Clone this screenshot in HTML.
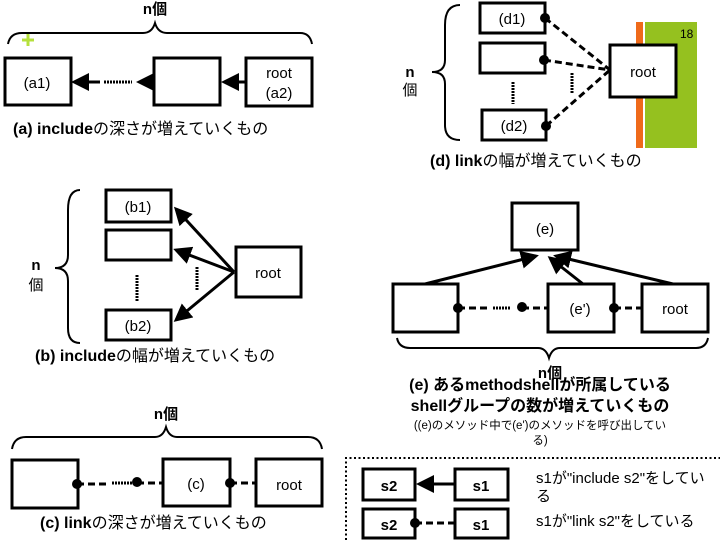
<!DOCTYPE html>
<html><head><meta charset="utf-8"><style>
html,body{margin:0;padding:0;background:#fff;}
svg{display:block;}
text{font-family:"Liberation Sans","Noto Sans CJK JP",sans-serif;fill:#000;}
.b{fill:#fff;stroke:#000;stroke-width:3;}
.br{fill:none;stroke:#000;stroke-width:2;}
.ar{stroke:#000;stroke-width:3;fill:none;}
.dl{stroke:#000;stroke-width:3;stroke-dasharray:7,4;fill:none;}
.dt{stroke:#000;stroke-width:3;stroke-dasharray:2,1;fill:none;}
.lb{font-weight:bold;}
</style></head><body>
<svg width="720" height="540" viewBox="0 0 720 540" xmlns="http://www.w3.org/2000/svg">
<defs>
<marker id="ah" markerWidth="6" markerHeight="6" refX="5" refY="3" orient="auto" markerUnits="strokeWidth"><path d="M0,0 L6,3 L0,6 z" fill="#000"/></marker>
</defs>

<!-- (a) -->
<text x="155" y="14" font-size="15" text-anchor="middle" class="lb">n個</text>
<path class="br" d="M8,44 Q10,33 22,33 L143,33 Q152,33 155,23 Q158,33 167,33 L300,33 Q310,33 312,44"/>
<path d="M22,40 h12 M28,34 v12" stroke="#b5e03c" stroke-width="3"/>
<rect class="b" x="5" y="58" width="66" height="47"/>
<rect class="b" x="154" y="58" width="66" height="47"/>
<rect class="b" x="246" y="58" width="66" height="48"/>
<text x="37" y="88" font-size="15" text-anchor="middle">(a1)</text>
<text x="279" y="78" font-size="15" text-anchor="middle">root</text>
<text x="279" y="98" font-size="15" text-anchor="middle">(a2)</text>
<line class="ar" x1="246" y1="82" x2="224" y2="82" marker-end="url(#ah)"/>
<line class="ar" x1="154" y1="82" x2="139" y2="82" marker-end="url(#ah)"/>
<line class="dt" x1="104" y1="82" x2="132" y2="82"/>
<line class="ar" x1="100" y1="82" x2="74" y2="82" marker-end="url(#ah)"/>
<text x="13" y="134" font-size="16"><tspan class="lb">(a) include</tspan>の深さが増えていくもの</text>

<!-- (d) -->
<rect x="636" y="22" width="7" height="126" fill="#ef6a1a"/>
<rect x="645" y="22" width="52" height="126" fill="#95c11f"/>
<text x="680" y="38" font-size="12" fill="#000">18</text>
<path class="br" d="M460,5 Q445,5 445,25 L445,60 Q445,72 432,72 Q445,72 445,84 L445,125 Q445,140 460,140"/>
<text x="410" y="77" font-size="15" text-anchor="middle" class="lb">n</text>
<text x="410" y="95" font-size="15" text-anchor="middle">個</text>
<rect class="b" x="480" y="3" width="65" height="30"/>
<rect class="b" x="480" y="43" width="65" height="30"/>
<rect class="b" x="482" y="110" width="64" height="30"/>
<rect class="b" x="610" y="45" width="66" height="52"/>
<text x="512" y="24" font-size="15" text-anchor="middle">(d1)</text>
<text x="514" y="131" font-size="15" text-anchor="middle">(d2)</text>
<text x="643" y="77" font-size="15" text-anchor="middle">root</text>
<line class="dl" x1="545" y1="18" x2="610" y2="70"/>
<line class="dl" x1="544" y1="60" x2="610" y2="70"/>
<line class="dl" x1="546" y1="126" x2="610" y2="70"/>
<circle cx="545" cy="18" r="5"/><circle cx="544" cy="60" r="5"/><circle cx="546" cy="126" r="5"/>
<line class="dt" x1="513" y1="82" x2="513" y2="104"/>
<line class="dt" x1="572" y1="73" x2="572" y2="94"/>
<text x="430" y="166" font-size="16"><tspan class="lb">(d) link</tspan>の幅が増えていくもの</text>

<!-- (b) -->
<path class="br" d="M80,190 Q68,190 68,210 L68,255 Q68,268 55,268 Q68,268 68,281 L68,328 Q68,343 80,343"/>
<text x="36" y="270" font-size="15" text-anchor="middle" class="lb">n</text>
<text x="36" y="290" font-size="15" text-anchor="middle">個</text>
<rect class="b" x="106" y="190" width="65" height="32"/>
<rect class="b" x="106" y="230" width="65" height="30"/>
<rect class="b" x="106" y="310" width="65" height="30"/>
<rect class="b" x="236" y="247" width="65" height="50"/>
<text x="138" y="212" font-size="15" text-anchor="middle">(b1)</text>
<text x="138" y="331" font-size="15" text-anchor="middle">(b2)</text>
<text x="268" y="278" font-size="15" text-anchor="middle">root</text>
<line class="ar" x1="234" y1="272" x2="176" y2="209" marker-end="url(#ah)"/>
<line class="ar" x1="234" y1="272" x2="176" y2="250" marker-end="url(#ah)"/>
<line class="ar" x1="234" y1="272" x2="176" y2="320" marker-end="url(#ah)"/>
<line class="dt" x1="137" y1="275" x2="137" y2="302"/>
<line class="dt" x1="197" y1="267" x2="197" y2="290"/>
<text x="35" y="361" font-size="16"><tspan class="lb">(b) include</tspan>の幅が増えていくもの</text>

<!-- (e) -->
<rect class="b" x="512" y="203" width="66" height="47"/>
<text x="545" y="234" font-size="15" text-anchor="middle">(e)</text>
<rect class="b" x="393" y="284" width="65" height="48"/>
<rect class="b" x="548" y="284" width="66" height="48"/>
<rect class="b" x="642" y="284" width="66" height="48"/>
<text x="580" y="314" font-size="15" text-anchor="middle">(e')</text>
<text x="675" y="314" font-size="15" text-anchor="middle">root</text>
<line class="ar" x1="425" y1="284" x2="536" y2="256" marker-end="url(#ah)"/>
<line class="ar" x1="583" y1="284" x2="550" y2="258" marker-end="url(#ah)"/>
<line class="ar" x1="673" y1="284" x2="556" y2="256" marker-end="url(#ah)"/>
<line class="dl" x1="458" y1="308" x2="490" y2="308"/>
<line class="dt" x1="493" y1="308" x2="511" y2="308"/>
<line class="dl" x1="522" y1="308" x2="548" y2="308"/>
<line class="dl" x1="614" y1="308" x2="642" y2="308"/>
<circle cx="458" cy="308" r="5"/><circle cx="522" cy="307" r="5"/><circle cx="614" cy="308" r="5"/>
<path class="br" d="M397,338 Q399,348 410,348 L538,348 Q546,348 549,358 Q552,348 560,348 L696,348 Q706,348 708,338"/>
<text x="550" y="378" font-size="15" text-anchor="middle" class="lb">n個</text>
<text x="540" y="390" font-size="16" font-weight="bold" text-anchor="middle">(e) あるmethodshellが所属している</text>
<text x="540" y="411" font-size="16" font-weight="bold" text-anchor="middle">shellグループの数が増えていくもの</text>
<text x="540" y="429" font-size="11.5" text-anchor="middle">((e)のメソッド中で(e')のメソッドを呼び出してい</text>
<text x="540" y="444" font-size="11.5" text-anchor="middle">る)</text>

<!-- (c) -->
<text x="166" y="419" font-size="15" text-anchor="middle" class="lb">n個</text>
<path class="br" d="M12,449 Q14,437 26,437 L155,437 Q163,437 166,427 Q169,437 177,437 L308,437 Q320,437 322,449"/>
<rect class="b" x="12" y="460" width="66" height="48"/>
<rect class="b" x="163" y="459" width="67" height="47"/>
<rect class="b" x="256" y="459" width="66" height="47"/>
<text x="196" y="489" font-size="15" text-anchor="middle">(c)</text>
<text x="289" y="490" font-size="15" text-anchor="middle">root</text>
<line class="dl" x1="77" y1="484" x2="108" y2="484"/>
<line class="dt" x1="112" y1="483" x2="132" y2="483"/>
<line class="dl" x1="137" y1="483" x2="163" y2="483"/>
<line class="dl" x1="230" y1="483" x2="256" y2="483"/>
<circle cx="77" cy="484" r="5"/><circle cx="137" cy="482" r="5"/><circle cx="230" cy="483" r="5"/>
<text x="40" y="528" font-size="16"><tspan class="lb">(c) link</tspan>の深さが増えていくもの</text>

<!-- legend -->
<path d="M346,540 L346,458 L720,458" fill="none" stroke="#000" stroke-width="2" stroke-dasharray="2,2.5"/>
<rect class="b" x="363" y="469" width="52" height="31"/>
<rect class="b" x="455" y="469" width="53" height="31"/>
<rect class="b" x="363" y="509" width="52" height="29"/>
<rect class="b" x="455" y="509" width="53" height="29"/>
<text x="389" y="491" font-size="15" font-weight="bold" text-anchor="middle">s2</text>
<text x="481" y="491" font-size="15" font-weight="bold" text-anchor="middle">s1</text>
<text x="389" y="530" font-size="15" font-weight="bold" text-anchor="middle">s2</text>
<text x="481" y="530" font-size="15" font-weight="bold" text-anchor="middle">s1</text>
<line class="ar" x1="455" y1="484" x2="419" y2="484" marker-end="url(#ah)"/>
<line class="dl" x1="415" y1="523" x2="455" y2="523"/>
<circle cx="415" cy="523" r="5"/>
<text x="536" y="483" font-size="15">s1が"include s2"をしてい</text>
<text x="536" y="501" font-size="15">る</text>
<text x="536" y="526" font-size="15">s1が"link s2"をしている</text>
</svg>
</body></html>
